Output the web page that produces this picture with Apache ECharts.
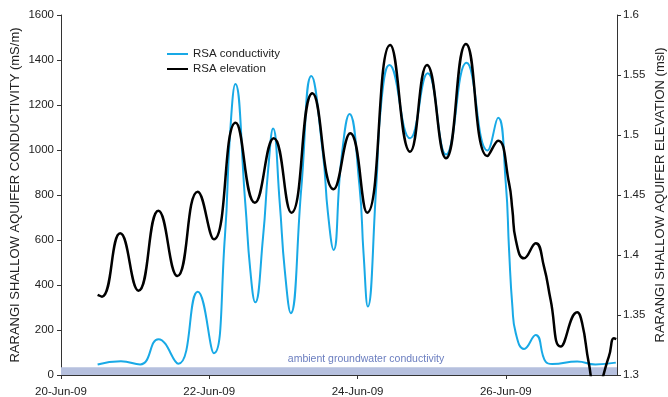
<!DOCTYPE html>
<html>
<head>
<meta charset="utf-8">
<script src="https://cdn.jsdelivr.net/npm/echarts@6/dist/echarts.min.js"></script>
<style>
  html, body { margin: 0; padding: 0; background: #fff; }
  #chart { width: 668px; height: 397px; }
</style>
</head>
<body>
<div id="chart"></div>
<script>
// Time is given as day of June 2009 (fractional days).
const condDay = [20.494, 20.808, 21.068, 21.314, 21.583, 21.844, 22.063, 22.211, 22.278, 22.352,
  22.486, 22.553, 22.620, 22.726, 22.794, 22.861, 22.951, 23.018, 23.099, 23.243, 23.377,
  23.533, 23.601, 23.677, 23.781, 23.892, 24.027, 24.081, 24.139, 24.252, 24.319, 24.430,
  24.709, 24.946, 25.193, 25.470, 25.753, 25.896, 26.000, 26.044, 26.089, 26.135, 26.246,
  26.404, 26.538, 26.627, 26.963, 27.208, 27.484];
const condValue = [47, 61, 47, 159, 50, 370, 97, 615, 1059, 1293,
  763, 467, 323, 615, 911, 1096, 763, 467, 275, 837, 1329,
  985, 719, 556, 956, 1160, 837, 541, 304, 837, 1207, 1378,
  1052, 1341, 980, 1388, 998, 1143, 852, 556, 304, 185, 116,
  178, 59, 49, 60, 47, 55];

const elevDay = [20.494, 20.553, 20.799, 21.045, 21.314, 21.570, 21.844, 22.063, 22.355, 22.615,
  22.870, 23.108, 23.391, 23.677, 23.902, 24.130, 24.440, 24.709, 24.937, 25.193,
  25.462, 25.752, 25.896, 26.044, 26.089, 26.135, 26.246, 26.404, 26.515, 26.605,
  26.740, 26.963, 27.030, 27.120, 27.210, 27.390, 27.457, 27.490];
const elevValue = [1.3667, 1.3653, 1.4181, 1.3703, 1.4369, 1.3825, 1.4528, 1.4131, 1.5103, 1.4436,
  1.4973, 1.4353, 1.5348, 1.4548, 1.5014, 1.4353, 1.5750, 1.4861, 1.5583, 1.4806,
  1.5758, 1.4825, 1.4953, 1.4597, 1.4375, 1.4125, 1.3972, 1.4098, 1.3903, 1.3625,
  1.3237, 1.3523, 1.3431, 1.3098, 1.2870, 1.3153, 1.3306, 1.3298];

// Ambient groundwater conductivity band (mS/m)
const ambientBand = [0, 35];

const condLabel = 'RSA conductivity';
const elevLabel = 'RSA elevation';

const textColor = '#222';
const axisColor = '#333';
const font = 'Liberation Sans, Arial, sans-serif';

const chart = echarts.init(document.getElementById('chart'), null, { renderer: 'canvas' });

chart.setOption({
  animation: false,
  backgroundColor: '#fff',
  textStyle: { fontFamily: font },
  grid: { left: 61, right: 51, top: 15, bottom: 22, containLabel: false, outerBoundsMode: 'none' },
  legend: {
    data: [condLabel, elevLabel],
    orient: 'vertical',
    left: 162,
    top: 42,
    icon: 'rect',
    itemWidth: 21,
    itemHeight: 2,
    itemGap: 1,
    textStyle: { fontSize: 11.5, color: textColor, fontFamily: font, lineHeight: 14 }
  },
  xAxis: {
    type: 'value',
    min: 20,
    max: 27.5,
    interval: 2,
    axisLine: { lineStyle: { color: axisColor, width: 1 } },
    axisTick: { show: true, length: 4, lineStyle: { color: axisColor } },
    splitLine: { show: false },
    axisLabel: {
      fontSize: 11.5, color: textColor, margin: 11, fontFamily: font,
      showMaxLabel: false,
      formatter: v => (Math.abs(v % 2) < 1e-9 ? v + '-Jun-09' : '')
    }
  },
  yAxis: [
    {
      type: 'value',
      min: 0,
      max: 1600,
      interval: 200,
      name: 'RARANGI SHALLOW AQUIFER CONDUCTIVITY (mS/m)',
      nameLocation: 'middle',
      nameRotate: 90,
      nameGap: 39,
      nameMoveOverlap: false,
      nameTextStyle: { fontSize: 13, color: textColor, fontFamily: font },
      axisLine: { show: true, lineStyle: { color: axisColor } },
      axisTick: { show: true, length: 4, lineStyle: { color: axisColor } },
      splitLine: { show: false },
      axisLabel: {
        fontSize: 11.5, color: textColor, margin: 7, fontFamily: font,
        formatter: v => String(v)
      }
    },
    {
      type: 'value',
      min: 1.3,
      max: 1.6,
      interval: 0.05,
      position: 'right',
      name: 'RARANGI SHALLOW AQUIFER ELEVATION (msl)',
      nameLocation: 'middle',
      nameRotate: 90,
      nameGap: 37,
      nameMoveOverlap: false,
      nameTextStyle: { fontSize: 13, color: textColor, fontFamily: font },
      axisLine: { show: true, lineStyle: { color: axisColor } },
      axisTick: { show: true, length: 4, lineStyle: { color: axisColor } },
      splitLine: { show: false },
      axisLabel: {
        fontSize: 11.5, color: textColor, margin: 6, fontFamily: font,
        formatter: v => String(Math.round(v * 100) / 100)
      }
    }
  ],
  series: [
    {
      name: condLabel,
      type: 'line',
      yAxisIndex: 0,
      data: condDay.map((d, i) => [d, condValue[i]]),
      showSymbol: false,
      smooth: 0.5,
      lineStyle: { color: '#18a9e6', width: 2 },
      itemStyle: { color: '#18a9e6' },
      markArea: {
        silent: true,
        itemStyle: { color: '#b6c0de' },
        label: {
          show: true,
          position: 'top',
          distance: 3,
          offset: [27, 0],
          fontSize: 10.5,
          color: '#6a7dbf',
          fontFamily: font
        },
        data: [[
          { name: 'ambient groundwater conductivity', xAxis: 20, yAxis: ambientBand[0] },
          { xAxis: 27.5, yAxis: ambientBand[1] }
        ]]
      },
      z: 2
    },
    {
      name: elevLabel,
      type: 'line',
      yAxisIndex: 1,
      data: elevDay.map((d, i) => [d, elevValue[i]]),
      showSymbol: false,
      smooth: 0.5,
      clip: true,
      lineStyle: { color: '#000', width: 2.5 },
      itemStyle: { color: '#000' },
      z: 3
    }
  ]
});
</script>
</body>
</html>
